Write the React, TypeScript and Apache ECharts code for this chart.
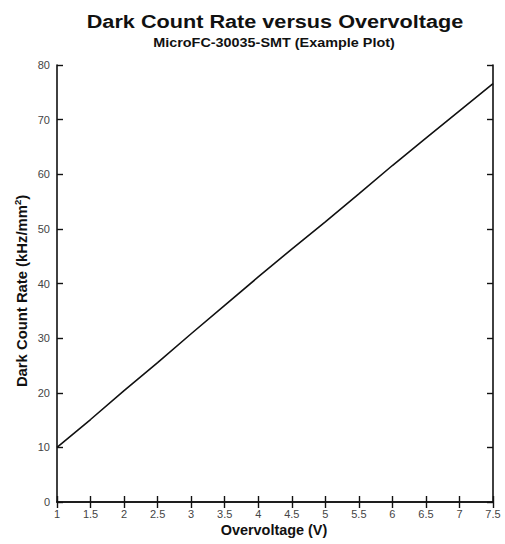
import React, { useEffect, useRef } from "react";
import * as echarts from "echarts";

const overvoltage = [1, 1.5, 2, 2.5, 3, 3.5, 4, 4.5, 5, 5.5, 6, 6.5, 7, 7.5];
const darkCountRate = [10, 15.1, 20.4, 25.5, 30.8, 36.0, 41.2, 46.3, 51.3, 56.4, 61.6, 66.6, 71.6, 76.6];

const titleText = "Dark Count Rate versus Overvoltage";
const subtitleText = "MicroFC-30035-SMT (Example Plot)";
const xName = "Overvoltage (V)";
const yName = "Dark Count Rate (kHz/mm{sup|2})";

const FONT = "'Liberation Sans', Arial, Helvetica, sans-serif";
const INK = "#111";

export default function App() {
  const ref = useRef<HTMLDivElement>(null);

  useEffect(() => {
    if (!ref.current) return;
    const chart = echarts.init(ref.current, null, { renderer: "svg" });
    const axisLine = { show: true, lineStyle: { color: INK, width: 1.6 } };
    const tick = { show: true, inside: true, length: 6, lineStyle: { color: INK, width: 1.4 } };
    const label = { color: "#444", fontFamily: FONT, fontSize: 11 };

    const boldText = (size: number) => ({
      fontFamily: FONT,
      fontWeight: "bold",
      fontSize: size,
      fill: INK,
      align: "center",
      verticalAlign: "middle",
    });

    chart.setOption({
      animation: false,
      backgroundColor: "#fff",
      graphic: [
        {
          type: "text",
          x: 275,
          y: 21,
          scaleX: 1.14,
          style: { text: titleText, ...boldText(19) },
        },
        {
          type: "text",
          x: 274,
          y: 43,
          scaleX: 1.2,
          style: { text: subtitleText, ...boldText(12) },
        },
        {
          type: "text",
          x: 274,
          y: 530,
          scaleX: 1.03,
          style: { text: xName, ...boldText(14) },
        },
        {
          type: "text",
          x: 22,
          y: 291,
          rotation: Math.PI / 2,
          scaleX: 1.06,
          style: {
            text: yName,
            ...boldText(14),
            rich: {
              sup: { fontFamily: FONT, fontWeight: "bold", fontSize: 9, fill: INK, verticalAlign: "top", padding: [0, 0, 7, 0] },
            },
          },
        },
      ],
      grid: { left: 57, top: 65, right: 12, bottom: 42, containLabel: false },
      xAxis: [
        {
          type: "value",
          min: 1,
          max: 7.5,
          interval: 0.5,
          position: "bottom",
          axisLine,
          axisTick: tick,
          axisLabel: { ...label, margin: 6 },
          splitLine: { show: false },
        },
        {
          type: "value",
          min: 1,
          max: 7.5,
          interval: 0.5,
          position: "top",
          axisLine,
          axisTick: tick,
          axisLabel: { show: false },
          splitLine: { show: false },
        },
      ],
      yAxis: [
        {
          type: "value",
          min: 0,
          max: 80,
          interval: 10,
          position: "left",
          axisLine,
          axisTick: tick,
          axisLabel: { ...label, margin: 7 },
          splitLine: { show: false },
        },
        {
          type: "value",
          min: 0,
          max: 80,
          interval: 10,
          position: "right",
          axisLine,
          axisTick: tick,
          axisLabel: { show: false },
          splitLine: { show: false },
        },
      ],
      series: [
        {
          type: "line",
          xAxisIndex: 0,
          yAxisIndex: 0,
          data: overvoltage.map((v, i) => [v, darkCountRate[i]]),
          showSymbol: false,
          lineStyle: { color: INK, width: 1.6 },
        },
      ],
    });

    return () => chart.dispose();
  }, []);

  return (
    <div
      ref={ref}
      style={{ position: "absolute", left: 0, top: 0, width: 505, height: 544 }}
    />
  );
}
